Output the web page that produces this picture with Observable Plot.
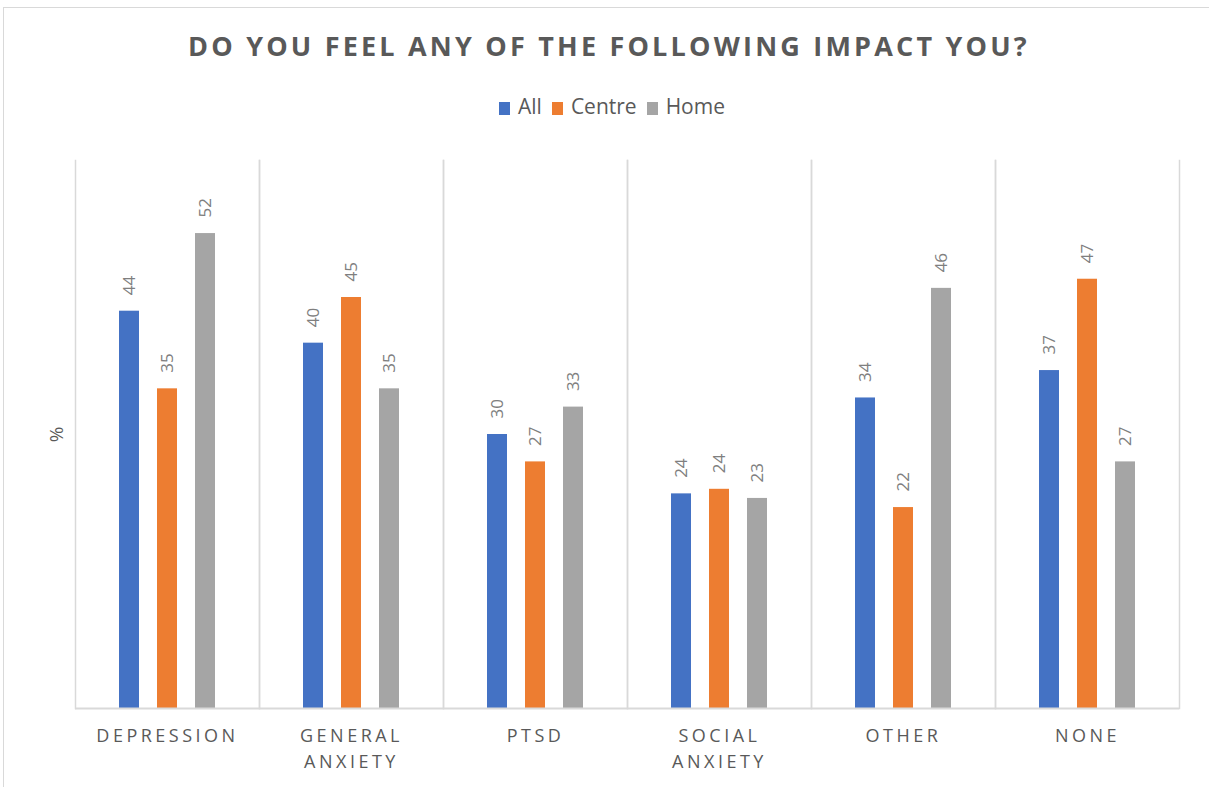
<!DOCTYPE html>
<html>
<head>
<meta charset="utf-8">
<script src="https://cdn.jsdelivr.net/npm/d3@7"></script>
<script src="https://cdn.jsdelivr.net/npm/@observablehq/plot@0.6"></script>
<style>
  html, body { margin: 0; padding: 0; background: #fff; }
  body { width: 1209px; height: 787px; position: relative; overflow: hidden; font-family: "Open Sans", "Liberation Sans", sans-serif; }
  #frame { position: absolute; left: 3px; top: 7px; width: 1220px; height: 800px; border: 1px solid #d9d9d9; box-sizing: border-box; }
  #title { position: absolute; left: 0; top: 27px; width: 1218px; text-align: center; font-size: 27px; font-weight: 700; letter-spacing: 3.2px; color: #595959; }
  #legend { position: absolute; left: 0; top: 92px; width: 1224px; text-align: center; font-size: 21px; color: #595959; }
  #legend span.item { margin: 0 5px; }
  #legend span.sw { display: inline-block; width: 11px; height: 13px; margin-right: 8px; vertical-align: -1px; }
  #chart { position: absolute; left: 0; top: 140px; }
  #chart svg text { font-family: "Open Sans", "Liberation Sans", sans-serif; }
  .xlab text { letter-spacing: 3.5px; }
</style>
</head>
<body>
<div id="frame"></div>
<div id="title">DO YOU FEEL ANY OF THE FOLLOWING IMPACT YOU?</div>
<div id="legend"></div>
<div id="chart"></div>
<script>
const categories = ["DEPRESSION", "GENERAL\nANXIETY", "PTSD", "SOCIAL\nANXIETY", "OTHER", "NONE"];
const series = ["All", "Centre", "Home"];
const colors = ["#4472c4", "#ed7d31", "#a5a5a5"];
const allValues = [43.5, 40, 30, 23.5, 34, 37];
const centreValues = [35, 45, 27, 24, 22, 47];
const homeValues = [52, 35, 33, 23, 46, 27];

const seriesValues = [allValues, centreValues, homeValues];
const data = [];
categories.forEach((c, i) => {
  series.forEach((s, j) => {
    data.push({category: c, series: s, value: seriesValues[j][i]});
  });
});

// legend
const legend = document.getElementById("legend");
series.forEach((s, j) => {
  const item = document.createElement("span");
  item.className = "item";
  item.innerHTML = `<span class="sw" style="background:${colors[j]}"></span>${s}`;
  legend.appendChild(item);
});

const chart = Plot.plot({
  width: 1209,
  height: 638,
  marginTop: 20,
  marginBottom: 70,
  marginLeft: 73,
  marginRight: 28,
  style: {fontSize: "16px", color: "#595959", background: "transparent"},
  fx: {domain: categories, padding: 0, label: null},
  x: {domain: series, axis: null, paddingInner: 0.48, paddingOuter: 1.14},
  y: {domain: [0, 60], axis: null},
  color: {domain: series, range: colors},
  marks: [
    Plot.frame({anchor: "left", stroke: "#d9d9d9", strokeWidth: 1.5}),
    Plot.frame({anchor: "right", stroke: "#d9d9d9", strokeWidth: 1.5}),
    Plot.barY(data, {fx: "category", x: "series", y: "value", fill: "series"}),
    Plot.text(data, {
      fx: "category", x: "series", y: "value",
      text: d => String(Math.round(d.value)),
      rotate: -90, textAnchor: "start", dx: 0, dy: -16,
      fill: "#7f7f7f", fontSize: 17
    }),
    Plot.ruleY([0], {stroke: "#d9d9d9", strokeWidth: 2}),
    Plot.axisFx({
      anchor: "bottom", tickSize: 0, tickPadding: 15, label: null,
      fontSize: 18, fill: "#595959", lineHeight: 1.45,
      className: "xlab"
    }),
    Plot.text(["%"], {
      fx: () => categories[0],
      frameAnchor: "left", textAnchor: "middle", dx: -19, rotate: -90, fontSize: 19, fill: "#595959"
    })
  ]
});
document.getElementById("chart").appendChild(chart);
</script>
</body>
</html>
